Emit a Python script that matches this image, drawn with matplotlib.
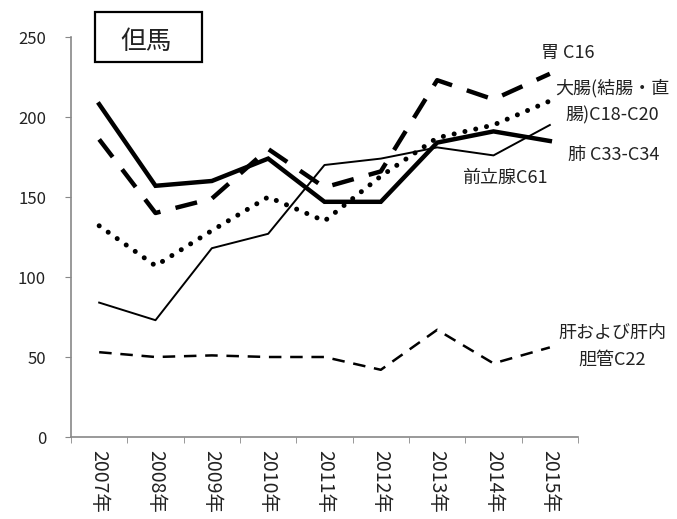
import matplotlib
matplotlib.use("Agg")
import matplotlib.pyplot as plt
from matplotlib.patches import Rectangle
import numpy as np

plt.rcParams['font.family'] = ['Noto Sans CJK JP', 'DejaVu Sans']

years = ['2007年', '2008年', '2009年', '2010年', '2011年', '2012年', '2013年', '2014年', '2015年']
stomach = [186, 140, 149, 180, 156, 166, 223, 211, 227]
colorectal = [132, 107, 129, 150, 135, 163, 187, 195, 210]
lung = [208, 157, 160, 174, 147, 147, 184, 191, 185]
prostate = [84, 73, 118, 127, 170, 174, 181, 176, 195]
liver = [53, 50, 51, 50, 50, 42, 67, 46, 56]
yticks = [0, 50, 100, 150, 200, 250]

fig = plt.figure(figsize=(6.77, 5.19), dpi=100)
ax = fig.add_axes([71/677, 1-437/519, (578-71)/677, 400/519])
x = np.arange(len(years))

ax.plot(x, lung, color='black', lw=3.2, solid_joinstyle='miter')
ax.plot(x, stomach, color='black', lw=3.2, dashes=(5, 3.5))
ax.plot(x, colorectal, color='black', lw=3.6, dashes=(0.01, 2.2), dash_capstyle='round')
ax.plot(x, prostate, color='black', lw=1.4)
ax.plot(x, liver, color='black', lw=1.8, dashes=(5, 3.5))

ax.set_xlim(-0.5, len(years) - 0.5)
ax.set_ylim(0, 250)
ax.set_yticks(yticks)
ax.set_yticklabels([str(v) for v in yticks], fontsize=12, color='#222222')
ax.set_xticks(x)
ax.set_xticklabels(years, rotation=-90, fontsize=14, color='#222222', va='top', ha='center')
ax.set_xticks(np.arange(-0.5, len(years)), minor=True)
ax.tick_params(axis='x', which='major', length=0, pad=9)
ax.tick_params(axis='x', which='minor', length=4, color='#888888', direction='out')
ax.tick_params(axis='y', length=4, color='#888888', direction='out', pad=14)

for s in ['top', 'right']:
    ax.spines[s].set_visible(False)
for s in ['left', 'bottom']:
    ax.spines[s].set_color('#888888')
    ax.spines[s].set_linewidth(1.2)

def t(px, py, s, **kw):
    fig.text(px/677, 1-py/519, s, fontsize=13, color='#222222', ha='center', va='center', **kw)

t(568, 53, '胃 C16')
t(612, 88, '大腸(結腸・直')
t(612, 115, '腸)C18-C20')
t(614, 155, '肺 C33-C34')
t(505, 178, '前立腺C61')
t(612, 333, '肝および肝内')
t(612, 360, '胆管C22')

fig.add_artist(Rectangle((95/677, 1-62/519), 107/677, 50/519, transform=fig.transFigure,
                         fill=False, ec='black', lw=1.6))
fig.text(146/677, 1-42/519, '但馬', fontsize=18.5, color='#222222', ha='center', va='center')

fig.savefig('out.png', dpi=100, facecolor='white')
